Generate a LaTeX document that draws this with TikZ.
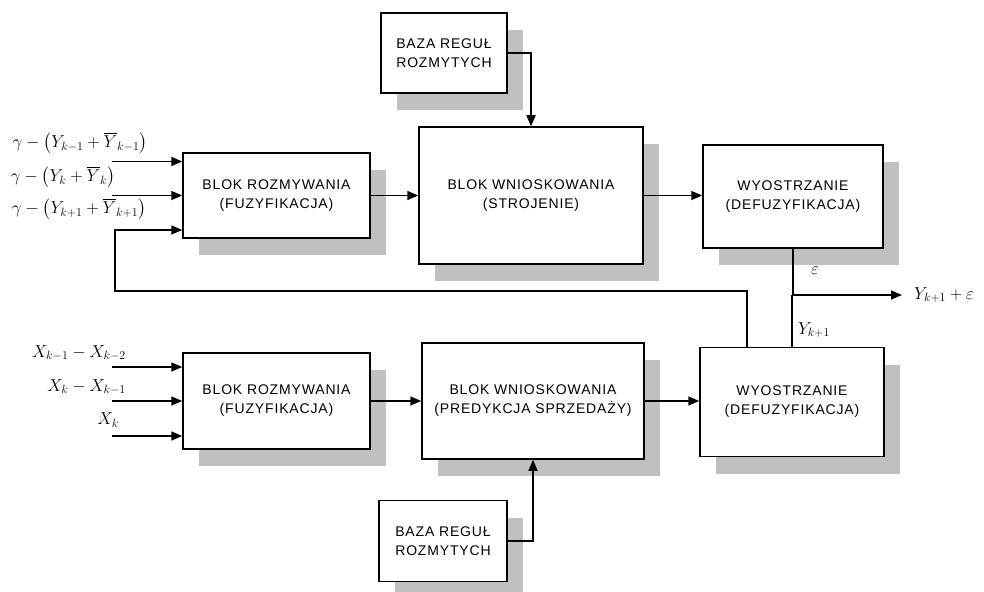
\documentclass[tikz,border=0pt]{standalone}
\usepackage{fontspec}
\usepackage{amsmath}
\usetikzlibrary{arrows.meta, positioning, shadows, calc}
\newfontfamily\blokfont[LetterSpace=6]{Liberation Sans}
\definecolor{cien}{RGB}{192,192,192}

\begin{document}
\begin{tikzpicture}[x=1pt, y=-1pt,
  blok/.style={draw, line width=1.5pt, fill=white, align=center, inner sep=0pt,
    font=\blokfont\fontsize{14}{19}\selectfont,
    drop shadow={shadow xshift=16pt, shadow yshift=-17pt, fill=cien, draw=none, opacity=1}},
  strz/.style={-{Triangle[length=11pt, width=9pt]}, line width=1.5pt},
  linia/.style={line width=1.5pt},
  wzor/.style={font=\fontsize{17}{20}\selectfont, inner sep=0pt}]
  % obszar rysunku (piksele obrazu, os y w dol)
  \useasboundingbox (0,0) rectangle (984,591);

  % bloki gornego toru (strojenie)
  \node[blok, minimum width=126pt, minimum height=80pt] (baza1) at (444,53) {BAZA REGUŁ\\ROZMYTYCH};
  \node[blok, minimum width=187pt, minimum height=85pt] (fuz1) at (276.5,195.5) {BLOK ROZMYWANIA\\(FUZYFIKACJA)};
  \node[blok, minimum width=224pt, minimum height=137pt] (wn1) at (531,195.5) {BLOK WNIOSKOWANIA\\(STROJENIE)};
  \node[blok, minimum width=180pt, minimum height=103pt] (def1) at (793,196.5) {WYOSTRZANIE\\(DEFUZYFIKACJA)};

  % bloki dolnego toru (predykcja)
  \node[blok, minimum width=187pt, minimum height=96pt] (fuz2) at (276.5,401) {BLOK ROZMYWANIA\\(FUZYFIKACJA)};
  \node[blok, minimum width=222pt, minimum height=116pt] (wn2) at (533,401) {BLOK WNIOSKOWANIA\\(PREDYKCJA SPRZEDAŻY)};
  \node[blok, minimum width=184pt, minimum height=109pt] (def2) at (792,402) {WYOSTRZANIE\\(DEFUZYFIKACJA)};
  \node[blok, minimum width=128pt, minimum height=81pt] (baza2) at (443,541) {BAZA REGUŁ\\ROZMYTYCH};

  % polaczenia miedzy blokami
  \draw[strz] (baza1.east) -| (wn1.north);
  \draw[strz] (baza2.east) -| (wn2.south);
  \draw[strz] (fuz1.east) -- (wn1.west);
  \draw[strz] (wn1.east) -- (wn1.east -| def1.west);
  \draw[strz] (fuz2.east) -- (wn2.west);
  \draw[strz] (wn2.east) -- (wn2.east -| def2.west);

  % wejscia gornego toru
  \draw[strz] ([xshift=-70pt, yshift=34pt]fuz1.west) -- ([yshift=34pt]fuz1.west);
  \draw[strz] ([xshift=-70pt]fuz1.west) -- (fuz1.west);
  \node[wzor] (we1) at (80,143) {$\gamma-\bigl(Y_{k-1}+\overline{Y}_{k-1}\bigr)$};
  \node[wzor] (we2) at (63,177) {$\gamma-\bigl(Y_{k}+\overline{Y}_{k}\bigr)$};
  \node[wzor] (we3) at (79,209) {$\gamma-\bigl(Y_{k+1}+\overline{Y}_{k+1}\bigr)$};

  % wejscia dolnego toru
  \foreach \dy in {34, 0, -35}
    \draw[strz] ([xshift=-70pt, yshift=\dy pt]fuz2.west) -- ([yshift=\dy pt]fuz2.west);
  \node[wzor, anchor=east] (wx1) at (126,353) {$X_{k-1}-X_{k-2}$};
  \node[wzor, anchor=east] (wx2) at (126,387) {$X_{k}-X_{k-1}$};
  \node[wzor, anchor=east] (wx3) at (119,420) {$X_{k}$};

  % wyjscie: Y_{k+1} + epsilon
  \coordinate (wezel) at (def1.south |- 0,295);
  \coordinate (wyj) at (902,295);
  \draw[linia] (def1.south) -- (wezel);
  \draw[linia] (def2.north) -- (def2.north |- wezel);
  \draw[strz] (wezel) -- (wyj);
  \node[wzor, right=12pt of wyj] (wynik) {$Y_{k+1}+\varepsilon$};
  \node[wzor] (eps) at (815,271) {$\varepsilon$};
  \node[wzor] (ykp) at (814,330) {$Y_{k+1}$};

  % sprzezenie zwrotne do rozmywania
  \coordinate (zw) at ([xshift=-45pt]def2.north);
  \coordinate (naroznik) at (115,291);
  \draw[strz] (zw) |- (naroznik) |- ([yshift=-34.5pt]fuz1.west);
\end{tikzpicture}
\end{document}
